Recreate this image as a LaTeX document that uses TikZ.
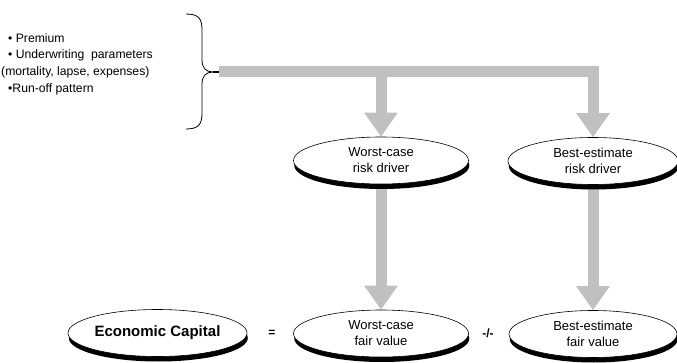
\documentclass[tikz,border=0pt]{standalone}
\usepackage{fontspec}
\setmainfont{Liberation Sans}
\usetikzlibrary{arrows.meta,shapes.geometric,shadows,backgrounds}
\definecolor{bargray}{RGB}{192,192,192}
\begin{document}
\begin{tikzpicture}[x=1pt,y=-1pt,
  oval/.style={ellipse, draw=black, line width=0.6pt, fill=white,
    minimum height=47pt, inner sep=0pt, align=center,
    font=\fontsize{13}{16}\selectfont,
    general shadow={fill=black, shadow yshift=-5pt, shadow xshift=0.8pt}},
  fat/.style={draw=bargray, line width=11pt, line join=miter,
    -{Triangle[width=32pt,length=24pt]}},
  bracestyle/.style={draw=black, line width=0.8pt},
  sign/.style={font=\bfseries\fontsize{12}{14}\selectfont, inner sep=0pt},
]
\useasboundingbox (0,0) rectangle (677,363);

% input list and its brace
\node[anchor=west, align=left, inner sep=0pt,
      font=\fontsize{12.2}{16.7}\selectfont] (inputs) at (1,64)
  {\hspace*{7pt}• Premium\\
   \hspace*{7pt}• Underwriting\ \ parameters\\
   (mortality, lapse, expenses)\\
   \hspace*{7pt}•Run-off pattern};
\coordinate (bt) at (213,72);
\coordinate (bs) at (219,72);
\draw[bracestyle] (186,14) .. controls (199,14) and (202,19) .. (202,30)
  -- (202,60) .. controls (202,68) and (206,72) .. (bt)
  .. controls (206,72) and (202,76) .. (202,84)
  -- (202,113) .. controls (202,124) and (199,129) .. (186,129);
\draw[bracestyle, line width=1.4pt] (bt) -- (bs);

% risk drivers
\node[oval, minimum width=175pt] (wcr) at (381,160.5) {Worst-case\\risk driver};
\node[oval, minimum width=170pt] (ber) at (593,161) {Best-estimate\\risk driver};

% valuation line
\node[oval, minimum width=179pt, font=\bfseries\fontsize{15}{18}\selectfont]
  (ec) at (157.5,333) {\makebox[0pt]{Economic Capital}};
\node[sign] (eq) at (272,333) {=};
\node[oval, minimum width=175pt] (wcf) at (381,333.5) {Worst-case\\fair value};
\node[sign] (mn) at (488,333) {-/-};
\node[oval, minimum width=168pt] (bef) at (593,334) {Best-estimate\\fair value};

% broad grey flow arrows
\begin{pgfonlayer}{background}
  \draw[fat] (bs) -| (ber.north);
  \draw[fat] (bs -| wcr.north) -- (wcr.north);
  \draw[fat] (wcr.south) -- (wcf.north);
  \draw[fat] (ber.south) -- (bef.north);
\end{pgfonlayer}
\end{tikzpicture}
\end{document}
